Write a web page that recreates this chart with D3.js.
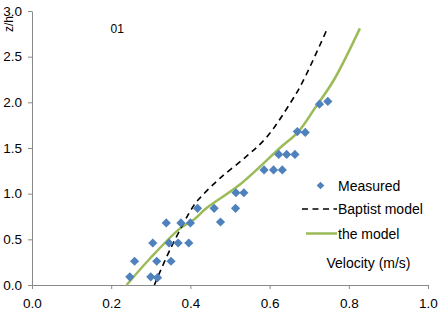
<!DOCTYPE html>
<html lang="en">
<head>
<meta charset="utf-8">
<title>velocity profile 01</title>
<script src="https://cdn.jsdelivr.net/npm/d3@7"></script>
<style>
  body { margin: 0; background: #fff; }
  text { font-family: Arial, "Liberation Sans", sans-serif; fill: #000; }
  .axis path, .axis line { stroke: #898989; }
</style>
</head>
<body>
<script>
var w = 438;
var h = 311;

// measured points (velocity m/s, z/h)
var measuredV = [0.247, 0.259, 0.300, 0.317, 0.305, 0.315, 0.339, 0.346, 0.351, 0.369,
                 0.376, 0.396, 0.400, 0.418, 0.460, 0.476, 0.514, 0.515, 0.535, 0.586,
                 0.610, 0.632, 0.623, 0.643, 0.664, 0.670, 0.690, 0.726, 0.747];
var measuredZ = [0.09, 0.26, 0.09, 0.08, 0.46, 0.26, 0.68, 0.46, 0.26, 0.46,
                 0.68, 0.46, 0.68, 0.84, 0.84, 0.69, 0.84, 1.01, 1.01, 1.26,
                 1.26, 1.26, 1.43, 1.43, 1.43, 1.68, 1.67, 1.98, 2.01];

// Baptist model curve
var baptistV = [0.309, 0.350, 0.410, 0.430, 0.475, 0.542, 0.593, 0.652, 0.683, 0.746];
var baptistZ = [0.00, 0.40, 0.88, 0.98, 1.17, 1.41, 1.62, 1.99, 2.22, 2.81];

// the model curve
var modelV = [0.239, 0.298, 0.374, 0.410, 0.440, 0.525, 0.626, 0.673, 0.715, 0.763, 0.828];
var modelZ = [0.00, 0.29, 0.62, 0.72, 0.84, 1.10, 1.50, 1.68, 1.94, 2.25, 2.81];

var xTicks = [0, 0.2, 0.4, 0.6, 0.8, 1.0];
var yTicks = [0, 0.5, 1.0, 1.5, 2.0, 2.5, 3.0];

var legendLabels = ["Measured", "Baptist model", "the model"];

var blue = "#4f81bd", green = "#9bbb59";

var xScale = d3.scaleLinear().domain([0, 1]).range([32, 428]);
var yScale = d3.scaleLinear().domain([0, 3]).range([285, 11]);

var svg = d3.select("body").append("svg")
    .attr("width", w)
    .attr("height", h);

// axes
var xAxis = d3.axisBottom(xScale).tickValues(xTicks).tickSize(4).tickSizeOuter(0)
    .tickPadding(9).tickFormat(d3.format(".1f"));
var yAxis = d3.axisLeft(yScale).tickValues(yTicks).tickSize(4).tickSizeOuter(0)
    .tickPadding(6).tickFormat(d3.format(".1f"));

svg.append("g").attr("class", "axis")
    .attr("transform", "translate(0," + yScale(0) + ")")
    .call(xAxis)
    .selectAll("text").attr("font-size", "13.5px").style("font-family", "Arial, 'Liberation Sans', sans-serif").attr("fill", "#000");

svg.append("g").attr("class", "axis")
    .attr("transform", "translate(" + xScale(0) + ",0)")
    .call(yAxis)
    .selectAll("text").attr("font-size", "13.5px").style("font-family", "Arial, 'Liberation Sans', sans-serif").attr("fill", "#000");

// lines
function pts(vs, zs) { return vs.map(function(v, i) { return [v, zs[i]]; }); }

var line = d3.line()
    .x(function(d) { return xScale(d[0]); })
    .y(function(d) { return yScale(d[1]); })
    .curve(d3.curveCatmullRom.alpha(0.5));

svg.append("path")
    .attr("d", line(pts(modelV, modelZ)))
    .attr("fill", "none")
    .attr("stroke", green)
    .attr("stroke-width", 2.5);

svg.append("path")
    .attr("d", line(pts(baptistV, baptistZ)))
    .attr("fill", "none")
    .attr("stroke", "#000")
    .attr("stroke-width", 1.6)
    .attr("stroke-dasharray", "6,4.5");

// diamonds
var diamond = "M0,-4.6L4.6,0L0,4.6L-4.6,0Z";
svg.selectAll("path.pt")
    .data(pts(measuredV, measuredZ))
    .enter().append("path")
    .attr("class", "pt")
    .attr("d", diamond)
    .attr("transform", function(d) { return "translate(" + xScale(d[0]) + "," + yScale(d[1]) + ")"; })
    .attr("fill", blue);

// legend
var legY = [185.5, 209, 233.5];
var leg = svg.append("g");
leg.append("path").attr("d", "M0,-3.8L3.8,0L0,3.8L-3.8,0Z")
    .attr("transform", "translate(320.5," + legY[0] + ")")
    .attr("fill", blue);
leg.append("line")
    .attr("x1", 302).attr("x2", 337).attr("y1", legY[1]).attr("y2", legY[1])
    .attr("stroke", "#000").attr("stroke-width", 1.6).attr("stroke-dasharray", "6,4.5");
leg.append("line")
    .attr("x1", 306).attr("x2", 337).attr("y1", legY[2]).attr("y2", legY[2])
    .attr("stroke", green).attr("stroke-width", 2.5);
leg.selectAll("text")
    .data(legendLabels)
    .enter().append("text")
    .attr("x", 338)
    .attr("y", function(d, i) { return legY[i] + 5; })
    .attr("font-size", "14px")
    .text(function(d) { return d; });

// labels
svg.append("text")
    .attr("x", 326.5).attr("y", 268)
    .attr("font-size", "14px")
    .text("Velocity (m/s)");

svg.append("text")
    .attr("x", 110.5).attr("y", 32.5)
    .attr("font-size", "12px")
    .text("01");

svg.append("text")
    .attr("transform", "translate(13,24) rotate(-90)")
    .attr("text-anchor", "middle")
    .attr("font-size", "12px")
    .text("z/h");
</script>
</body>
</html>
